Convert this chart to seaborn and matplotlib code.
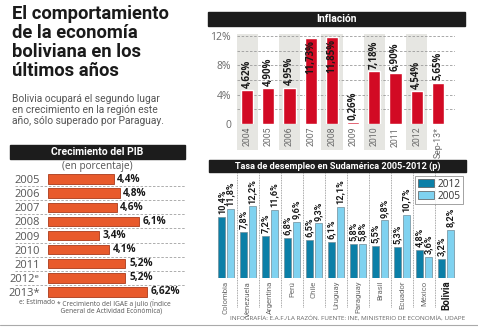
import matplotlib
matplotlib.use("Agg")
import matplotlib.pyplot as plt
from matplotlib.patches import Rectangle, Patch
from matplotlib import font_manager
import seaborn as sns
import pandas as pd

# ---------------- data ----------------
infl_years = ['2004', '2005', '2006', '2007', '2008', '2009', '2010', '2011', '2012', 'Sep-13*']
inflation = [4.62, 4.90, 4.95, 11.73, 11.85, 0.26, 7.18, 6.90, 4.54, 5.65]
infl_labels = ['4,62%', '4,90%', '4,95%', '11,73%', '11,85%', '0,26%', '7,18%', '6,90%', '4,54%', '5,65%']

pib_years = ['2005', '2006', '2007', '2008', '2009', '2010', '2011', '2012\u1d49', '2013*']
pib = [4.4, 4.8, 4.6, 6.1, 3.4, 4.1, 5.2, 5.2, 6.62]
pib_labels = ['4,4%', '4,8%', '4,6%', '6,1%', '3,4%', '4,1%', '5,2%', '5,2%', '6,62%']

countries = ['Colombia', 'Venezuela', 'Argentina', 'Perú', 'Chile', 'Uruguay',
             'Paraguay', 'Brasil', 'Ecuador', 'México', 'Bolivia']
unemp_2012 = [10.4, 7.8, 7.2, 6.8, 6.5, 6.1, 5.8, 5.5, 5.3, 4.8, 3.2]
unemp_2005 = [11.8, 12.2, 11.6, 9.6, 9.3, 12.1, 5.8, 9.8, 10.7, 3.6, 8.2]
series_names = ['2012', '2005']

# ---------------- style ----------------
sns.set_style("white")
plt.rcParams['font.family'] = ['Open Sans', 'DejaVu Sans']

available = {f.name for f in font_manager.fontManager.ttflist}
NARROW = 'Liberation Sans Narrow' if 'Liberation Sans Narrow' in available else 'Roboto'
narrow_stretch = 'normal' if NARROW == 'Liberation Sans Narrow' else 'condensed'

W, H = 478, 329
fig = plt.figure(figsize=(W / 100, H / 100), dpi=100)
fig.patch.set_facecolor('white')


def rect(x0, y0, x1, y1):
    return [x0 / W, 1 - y1 / H, (x1 - x0) / W, (y1 - y0) / H]


def fx(x):
    return x / W


def fy(y):
    return 1 - y / H


def header(x0, y0, x1, y1, text, size=7.5):
    fig.patches.append(Rectangle((fx(x0), fy(y1)), (x1 - x0) / W, (y1 - y0) / H,
                                 transform=fig.transFigure, color='#1c1c1c', zorder=1))
    fig.text(fx((x0 + x1) / 2), fy((y0 + y1) / 2), text, color='white', fontweight='bold',
             fontsize=size, ha='center', va='center', zorder=2,
             family=['Roboto', 'DejaVu Sans'])


GRAY = '#6a6a6a'
RED = '#d20a24'
ORANGE = '#e85a2c'
DARK = '#0b7fa7'
LIGHT = '#7fd2f0'

# ---------------- title block ----------------
fig.text(fx(12), fy(5), "El comportamiento\nde la economía\nboliviana en los\núltimos años",
         fontsize=13.2, fontweight='bold', color='#1a1a1a', ha='left', va='top',
         linespacing=1.08, family=['Roboto', 'DejaVu Sans'])
fig.text(fx(12), fy(94), "Bolivia ocupará el segundo lugar\nen crecimiento en la región este\naño, sólo superado por Paraguay.",
         fontsize=7.4, color='#555555', ha='left', va='top', linespacing=1.12,
         family=['Roboto', 'DejaVu Sans'])

# ---------------- Inflation ----------------
header(208, 12, 465, 26, 'Inflación', 7.5)
ppu = 88 / 12.0
y0_inf = 124
ytop = 12.5
axI = fig.add_axes(rect(236.5, y0_inf - ytop * ppu, 236.5 + 10.3 * 21.2, y0_inf))
for i in range(0, 10, 2):
    axI.add_patch(Rectangle((i - 0.5, -26 / ppu), 1.0, 26 / ppu + 12.3,
                            color='#e6e6e2', clip_on=False, zorder=0, lw=0))
sns.barplot(x=infl_years, y=inflation, color=RED, width=0.58, saturation=1,
            ax=axI, zorder=3)
axI.set_xlim(-0.5, 9.8)
axI.set_ylim(0, ytop)
for yv in [2, 4, 6, 8, 10, 12]:
    axI.axhline(yv, color='#9a9a9a', lw=0.6, ls=(0, (3, 2)), zorder=1)
for i, (v, lab) in enumerate(zip(inflation, infl_labels)):
    if v > 11:
        axI.text(i, v - 0.25, lab, rotation=90, ha='center', va='top', fontsize=7,
                 fontweight='bold', color='#1a1a1a', zorder=5)
    else:
        axI.text(i, v + 0.3, lab, rotation=90, ha='center', va='bottom', fontsize=7,
                 fontweight='bold', color='#1a1a1a', zorder=5)
axI.set_yticks([0, 4, 8, 12])
axI.set_yticklabels(['0', '4%', '8%', '12%'])
axI.tick_params(axis='y', length=3, color='#999999', labelcolor=GRAY, labelsize=7.5, pad=1)
axI.tick_params(axis='x', length=0, labelcolor=GRAY, labelsize=6.3, rotation=90, pad=2)
for t in axI.get_xticklabels():
    t.set_family(NARROW)
    t.set_stretch(narrow_stretch)
for s in axI.spines.values():
    s.set_visible(False)
axI.set_facecolor('none')
axI.set_xlabel('')
axI.set_ylabel('')

# ---------------- PIB ----------------
header(10, 145, 185, 159, 'Crecimiento del PIB', 7.5)
fig.text(fx(97), fy(166), '(en porcentaje)', fontsize=7.2, color='#555555', ha='center', va='center')
ppx = 14.9
row = 14.1
axP = fig.add_axes(rect(48, 179 - row / 2, 185, 292 + row / 2))
sns.barplot(x=pib, y=pib_years, orient='h', color=ORANGE, width=0.66, saturation=1,
            edgecolor='#a93a1a', linewidth=0.6, ax=axP, zorder=3)
axP.set_xlim(0, 137 / ppx)
axP.set_ylim(8.5, -0.5)
for i in range(8):
    axP.plot([-33 / 137, 1], [i + 0.5, i + 0.5], transform=axP.get_yaxis_transform(),
             color='#a0a0a0', lw=0.6, ls=(0, (3, 2)), clip_on=False, zorder=1)
for i, (v, lab) in enumerate(zip(pib, pib_labels)):
    axP.text(v + 0.25, i, lab, ha='left', va='center', fontsize=7.3, fontweight='bold',
             color='#1a1a1a')
axP.set_xticks([])
axP.tick_params(axis='y', length=0, labelcolor='#555555', labelsize=8, pad=6)
for s in axP.spines.values():
    s.set_visible(False)
axP.set_facecolor('none')
axP.set_xlabel('')
axP.set_ylabel('')
fig.text(fx(19), fy(302), 'e: Estimado', fontsize=4.8, color='#555555', ha='left', va='center')
fig.text(fx(57), fy(298.5), '* Crecimiento del IGAE a julio (Índice\n  General de Actividad Económica)',
         fontsize=4.8, color='#555555', ha='left', va='top', linespacing=1.1)

# ---------------- Unemployment ----------------
header(209, 160, 466, 172, 'Tasa de desempleo en Sudamérica 2005-2012 (p)', 6.6)
ppu2 = 5.87
base = 278
top = 17.5
axU = fig.add_axes(rect(215, base - top * ppu2, 215 + 11 * 22, base))
df = pd.DataFrame({
    'país': countries * 2,
    'valor': unemp_2012 + unemp_2005,
    'año': [series_names[0]] * len(countries) + [series_names[1]] * len(countries),
})
sns.barplot(data=df, x='país', y='valor', hue='año', hue_order=series_names,
            palette=[DARK, LIGHT], width=0.8, gap=0.15, saturation=1,
            edgecolor='#6f8c98', linewidth=0.5, ax=axU, legend=False, zorder=3)
axU.set_xlim(-0.5, 10.5)
axU.set_ylim(0, top)
for cont, vals in zip(axU.containers, [unemp_2012, unemp_2005]):
    axU.bar_label(cont, labels=[f"{v:.1f}%".replace('.', ',') for v in vals],
                  rotation=90, padding=2, fontsize=6.6, fontweight='bold', color='#1a1a1a',
                  family=NARROW, fontstretch=narrow_stretch)
for i in range(10):
    axU.plot([i + 0.5, i + 0.5], [-29 / (top * ppu2), 1.02], transform=axU.get_xaxis_transform(),
             color='#8a8a8a', lw=0.6, ls=(0, (1, 1)), clip_on=False, zorder=1)
axU.set_yticks([])
axU.tick_params(axis='x', length=0, labelcolor=GRAY, labelsize=5.6, rotation=90, pad=2)
labs = axU.get_xticklabels()
for t in labs:
    t.set_family(NARROW)
    t.set_stretch(narrow_stretch)
labs[-1].set_fontweight('bold')
labs[-1].set_color('#1a1a1a')
labs[-1].set_fontsize(7)
labs[-1].set_family(['Roboto', 'DejaVu Sans'])
for s in axU.spines.values():
    s.set_visible(False)
axU.set_facecolor('none')
axU.set_xlabel('')
axU.set_ylabel('')
handles = [Patch(facecolor=DARK, edgecolor='#555555', lw=0.5),
           Patch(facecolor=LIGHT, edgecolor='#555555', lw=0.5)]
leg = axU.legend(handles, series_names, loc='upper right', bbox_to_anchor=(fx(463), fy(176)),
                 bbox_transform=fig.transFigure, fontsize=7.3, frameon=True, fancybox=False,
                 handlelength=1.6, handleheight=0.85, handletextpad=0.35, borderpad=0.25,
                 labelspacing=0.1, borderaxespad=0)
leg.get_frame().set_edgecolor('#777777')
leg.get_frame().set_linewidth(0.6)
for t in leg.get_texts():
    t.set_color('#333333')

fig.text(fx(465), fy(318), 'INFOGRAFÍA: E.A.F./LA RAZÓN. FUENTE: INE, MINISTERIO DE ECONOMÍA, UDAPE',
         fontsize=4.6, color='#666666', ha='right', va='center')
fig.add_artist(plt.Line2D([0, 1], [fy(325), fy(325)], transform=fig.transFigure,
                          color='#aaaaaa', lw=0.8))

fig.savefig('out.png', dpi=100, facecolor='white')
